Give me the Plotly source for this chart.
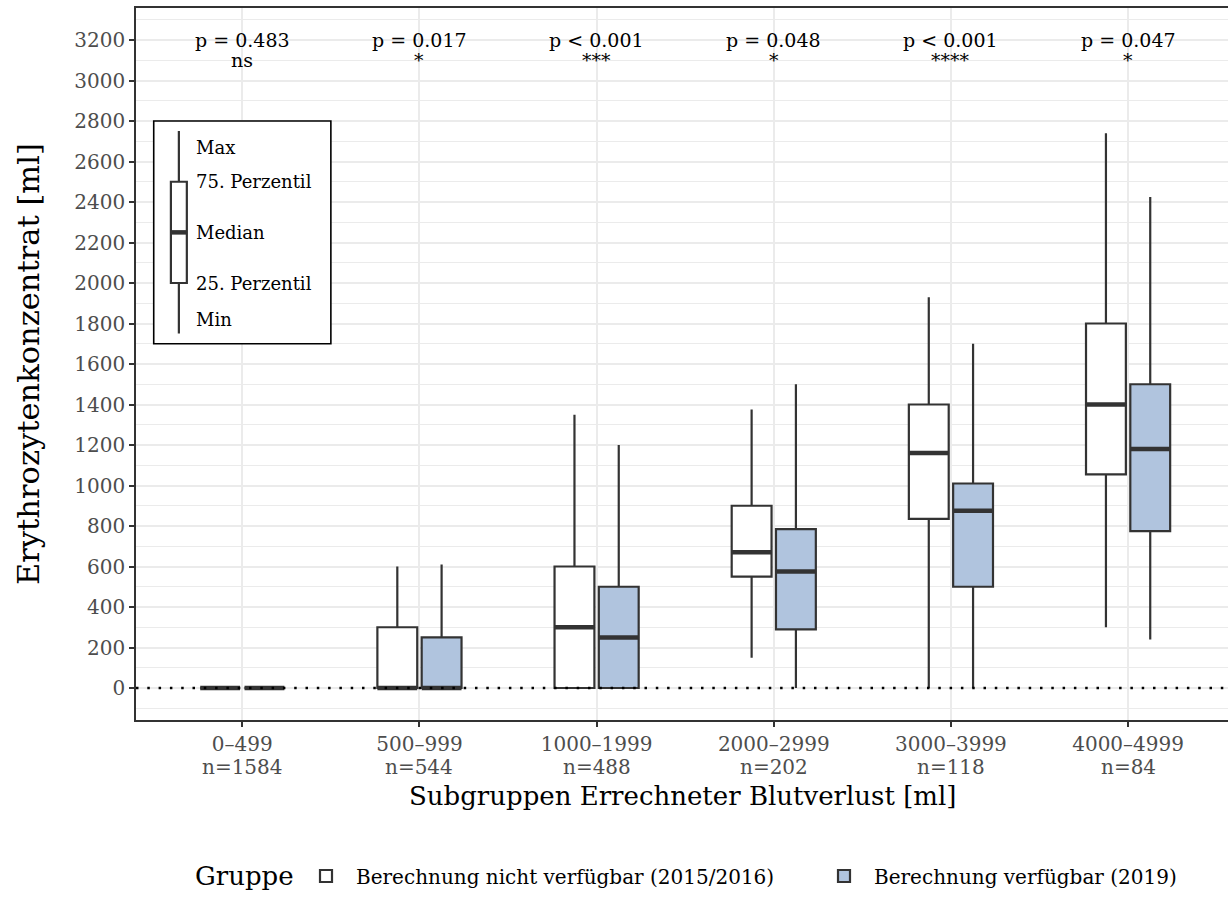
import plotly.graph_objects as go

# Blood-loss subgroups and their sample sizes
categories = ["0–499", "500–999", "1000–1999", "2000–2999", "3000–3999", "4000–4999"]
n_counts = [1584, 544, 488, 202, 118, 84]

# Group 1: calculation not available (2015/2016) — box statistics in ml
old_min = [0, 0, 0, 150, 0, 300]
old_q1 = [0, 0, 0, 550, 835, 1055]
old_median = [0, 0, 300, 670, 1160, 1400]
old_q3 = [0, 300, 600, 900, 1400, 1800]
old_max = [0, 600, 1350, 1375, 1930, 2740]

# Group 2: calculation available (2019) — box statistics in ml
new_min = [0, 0, 0, 0, 0, 240]
new_q1 = [0, 0, 0, 290, 500, 775]
new_median = [0, 0, 250, 575, 875, 1180]
new_q3 = [0, 250, 500, 785, 1010, 1500]
new_max = [0, 610, 1200, 1500, 1700, 2425]

# Test results per subgroup
p_labels = ["p = 0.483", "p = 0.017", "p < 0.001", "p = 0.048", "p < 0.001", "p = 0.047"]
signif = ["ns", "*", "***", "*", "****", "*"]

group_names = ["Berechnung nicht verfügbar (2015/2016)", "Berechnung verfügbar (2019)"]

# Explanatory key: example box values and the label heights next to it
key_stats = dict(lowerfence=1750, q1=2000, median=2250, q3=2500, upperfence=2750)
key_texts = ["Max", "75. Perzentil", "Median", "25. Perzentil", "Min"]
key_text_y = [2670, 2500, 2250, 2000, 1820]

FONT = "DejaVu Serif"
LINE = "#333333"
BLUE = "#B0C4DE"
TICK_GREY = "#4D4D4D"
DODGE = 0.125
BOX_W = 0.225
MED_W = 4.5
KEY_X = -0.358
KEY_W = 0.09

# plot area in pixels (used to place paper-referenced labels)
L, T, R, B = 136, 8, 1228, 720
def px_x(x):
    return (x - L) / (R - L)
def px_y(y):
    return (B - y) / (B - T)

idx = list(range(len(categories)))


def median_path(xs, meds, w):
    px, py = [], []
    for x, m in zip(xs, meds):
        px += [x - w / 2, x + w / 2, None]
        py += [m, m, None]
    return px, py


fig = go.Figure()

groups = [
    (group_names[0], [i - DODGE for i in idx], old_min, old_q1, old_median, old_q3, old_max, "white", "legend"),
    (group_names[1], [i + DODGE for i in idx], new_min, new_q1, new_median, new_q3, new_max, BLUE, "legend2"),
]

for name, xs, lo, q1, med, q3, hi, fill, leg in groups:
    fig.add_trace(go.Box(
        name=name, x=xs, q1=q1, median=med, q3=q3, lowerfence=lo, upperfence=hi,
        width=BOX_W, whiskerwidth=0, boxpoints=False, fillcolor=fill,
        line=dict(color=LINE, width=2.2), hoverinfo="skip", legend=leg,
    ))

for name, xs, lo, q1, med, q3, hi, fill, leg in groups:
    mx, my = median_path(xs, med, BOX_W)
    fig.add_trace(go.Scatter(x=mx, y=my, mode="lines", line=dict(color=LINE, width=MED_W),
                             showlegend=False, hoverinfo="skip"))

# Key box explaining the box elements
fig.add_trace(go.Box(
    x=[KEY_X], q1=[key_stats["q1"]], median=[key_stats["median"]], q3=[key_stats["q3"]],
    lowerfence=[key_stats["lowerfence"]], upperfence=[key_stats["upperfence"]],
    width=KEY_W, whiskerwidth=0, boxpoints=False, fillcolor="white",
    line=dict(color=LINE, width=2.2), showlegend=False, hoverinfo="skip",
))
kx, ky = median_path([KEY_X], [key_stats["median"]], KEY_W)
fig.add_trace(go.Scatter(x=kx, y=ky, mode="lines", line=dict(color=LINE, width=MED_W),
                         showlegend=False, hoverinfo="skip"))

# Frame around the key
fig.add_shape(type="rect", x0=-0.5, x1=0.5, y0=1700, y1=2800, xref="x", yref="y",
              line=dict(color="black", width=1.6), fillcolor="white", layer="between")

# Dotted reference line at zero
fig.add_shape(type="line", xref="paper", x0=0, x1=1, yref="y", y0=0, y1=0,
              line=dict(color="black", width=2.5, dash="2.5px,8.8px"), layer="above")

annotations = []
for i in idx:
    annotations.append(dict(x=i, y=3200, xref="x", yref="y", text=p_labels[i], showarrow=False,
                            font=dict(family=FONT, size=19, color="black")))
    annotations.append(dict(x=i, y=3100, xref="x", yref="y", text=signif[i], showarrow=False,
                            font=dict(family=FONT, size=19, color="black")))
    # second line of the category label: group size
    annotations.append(dict(x=i, y=px_y(767), xref="x", yref="paper", text=f"n={n_counts[i]}",
                            showarrow=False, yanchor="middle",
                            font=dict(family=FONT, size=20, color=TICK_GREY)))
for t, y in zip(key_texts, key_text_y):
    annotations.append(dict(x=-0.2735, y=y, xref="x", yref="y", text=t, showarrow=False,
                            xanchor="left", font=dict(family=FONT, size=18, color="black")))

annotations.append(dict(x=0.5, y=px_y(796), xref="paper", yref="paper",
                        text="Subgruppen Errechneter Blutverlust [ml]", showarrow=False,
                        yanchor="middle", font=dict(family=FONT, size=26, color="black")))
annotations.append(dict(x=px_x(28), y=0.5, xref="paper", yref="paper",
                        text="Erythrozytenkonzentrat [ml]", showarrow=False, textangle=-90,
                        xanchor="center", yanchor="middle",
                        font=dict(family=FONT, size=30.5, color="black")))
annotations.append(dict(x=px_x(193), y=px_y(876), xref="paper", yref="paper",
                        text="Gruppe", showarrow=False, xanchor="left", yanchor="middle",
                        font=dict(family=FONT, size=26, color="black")))

legend_style = dict(orientation="h", yanchor="middle", y=px_y(876), xanchor="left",
                    itemwidth=50, bgcolor="rgba(0,0,0,0)",
                    font=dict(family=FONT, size=20, color="black"))

fig.update_layout(
    width=1228, height=918,
    margin=dict(l=L, r=1228 - R, t=T, b=918 - B),
    plot_bgcolor="white", paper_bgcolor="white",
    font=dict(family=FONT, color="black"),
    boxmode="overlay",
    annotations=annotations,
    legend=dict(x=px_x(296), **legend_style),
    legend2=dict(x=px_x(814), **legend_style),
    xaxis=dict(
        range=[-0.6, 5.564], tickmode="array", tickvals=idx, ticktext=categories,
        showgrid=True, gridcolor="#EBEBEB", gridwidth=1.5, zeroline=False,
        showline=True, linecolor=LINE, linewidth=1.5, mirror=True,
        ticks="outside", ticklen=5, tickwidth=1.5, tickcolor=LINE,
        tickfont=dict(family=FONT, size=20, color=TICK_GREY),
    ),
    yaxis=dict(
        range=[-158, 3358], tickmode="linear", tick0=0, dtick=200,
        showgrid=True, gridcolor="#EBEBEB", gridwidth=1.5, zeroline=False,
        minor=dict(dtick=100, showgrid=True, gridcolor="#EBEBEB", gridwidth=0.9),
        showline=True, linecolor=LINE, linewidth=1.5, mirror=False,
        ticks="outside", ticklen=5, tickwidth=1.5, tickcolor=LINE,
        tickfont=dict(family=FONT, size=20, color=TICK_GREY),
    ),
)

fig.write_html("out.html")
